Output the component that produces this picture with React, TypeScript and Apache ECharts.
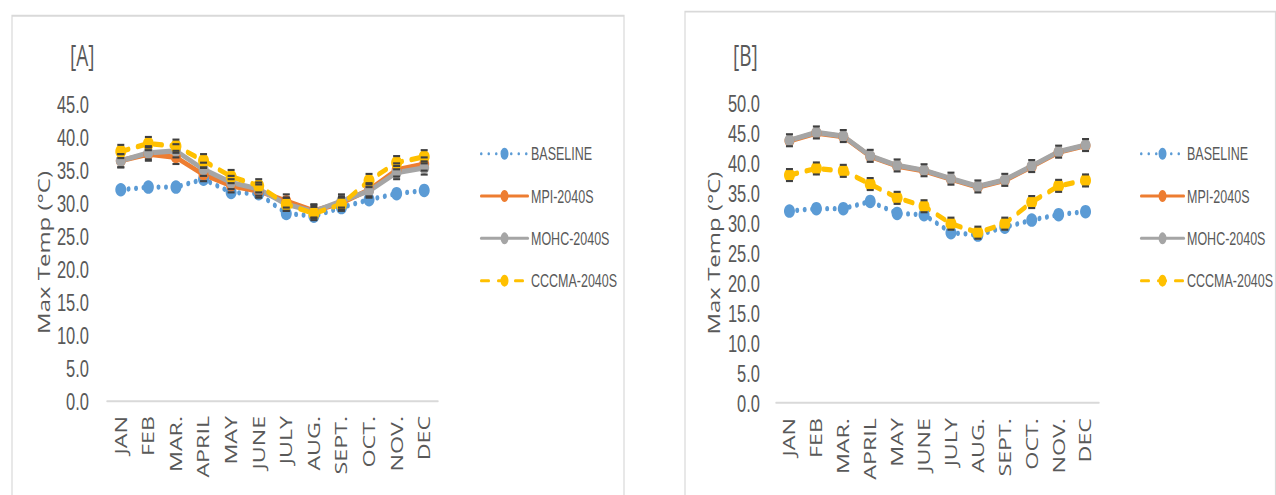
import React, { useEffect, useRef } from "react";
import * as echarts from "echarts";

const months = ["JAN", "FEB", "MAR.", "APRIL", "MAY", "JUNE", "JULY", "AUG.", "SEPT.", "OCT.", "NOV.", "DEC"];
const seriesNames = ["BASELINE", "MPI-2040S", "MOHC-2040S", "CCCMA-2040S"];

// Panel [A]
const baselineA = [32.0, 32.4, 32.4, 33.6, 31.6, 31.4, 28.4, 28.0, 29.3, 30.5, 31.4, 31.9];
const mpiA = [36.4, 37.4, 36.9, 34.3, 32.6, 31.8, 30.3, 28.8, 30.0, 32.0, 35.0, 35.9];
const mohcA = [36.4, 37.6, 37.9, 35.1, 33.1, 32.1, 29.8, 28.7, 30.3, 31.8, 34.6, 35.3];
const cccmaA = [37.8, 39.0, 38.6, 36.4, 34.0, 32.6, 29.8, 28.4, 29.8, 33.4, 36.1, 37.0];

// Panel [B]
const baselineB = [32.0, 32.4, 32.4, 33.6, 31.6, 31.4, 28.4, 28.0, 29.3, 30.5, 31.4, 31.9];
const mpiB = [43.7, 45.0, 44.4, 41.1, 39.5, 38.7, 37.3, 36.0, 37.1, 39.4, 41.8, 42.9];
const mohcB = [43.8, 45.1, 44.5, 41.2, 39.6, 38.8, 37.4, 36.1, 37.2, 39.5, 41.9, 43.0];
const cccmaB = [38.0, 39.1, 38.7, 36.5, 34.2, 32.8, 29.9, 28.4, 29.9, 33.5, 36.2, 37.1];

const yTicksA = { min: 0, max: 45, interval: 5 };
const yTicksB = { min: 0, max: 50, interval: 5 };
const ERROR_MARGIN = 1.0;

const COLORS = {
  baseline: "#5B9BD5",
  mpi: "#ED7D31",
  mohc: "#A5A5A5",
  cccma: "#FFC000",
  text: "#595959",
  axis: "#D9D9D9",
  err: "#404040",
};

function lineSeries(name: string, data: number[], idx: number, color: string, type: any, size: any) {
  return {
    name,
    type: "line",
    xAxisIndex: idx,
    yAxisIndex: idx,
    data,
    symbol: "circle",
    symbolSize: size,
    itemStyle: { color },
    lineStyle: { color, width: 3.5, type, cap: "round" },
    emphasis: { disabled: true },
  };
}

function errorSeries(data: number[], idx: number) {
  return {
    type: "custom",
    xAxisIndex: idx,
    yAxisIndex: idx,
    z: 5,
    silent: true,
    data: data.map((v, i) => [i, v]),
    encode: { x: 0, y: 1 },
    renderItem: (params: any, api: any) => {
      const i = api.value(0);
      const v = api.value(1);
      const top = api.coord([i, v + ERROR_MARGIN]);
      const bot = api.coord([i, v - ERROR_MARGIN]);
      const hw = 3.5;
      return {
        type: "group",
        children: [
          { type: "line", shape: { x1: top[0] - hw, y1: top[1], x2: top[0] + hw, y2: top[1] }, style: { stroke: COLORS.err, lineWidth: 1.4 } },
          { type: "line", shape: { x1: bot[0] - hw, y1: bot[1], x2: bot[0] + hw, y2: bot[1] }, style: { stroke: COLORS.err, lineWidth: 1.4 } },
        ],
      };
    },
  };
}

function xAxis(gridIndex: number) {
  return {
    type: "category",
    gridIndex,
    data: months,
    boundaryGap: true,
    axisLine: { show: true, lineStyle: { color: COLORS.axis, width: 1.4 } },
    axisTick: { show: false },
    axisLabel: { rotate: 90, margin: 10, color: COLORS.text, fontFamily: "Open Sans", fontSize: 15.5, interval: 0 },
    splitLine: { show: false },
  };
}

function yAxis(gridIndex: number, ticks: any, margin: number, nameGap: number) {
  return {
    type: "value",
    gridIndex,
    min: ticks.min,
    max: ticks.max,
    interval: ticks.interval,
    name: "Max Temp (°C)",
    nameLocation: "middle",
    nameGap,
    nameTextStyle: { color: COLORS.text, fontFamily: "Open Sans", fontSize: 16 },
    axisLine: { show: false },
    axisTick: { show: false },
    splitLine: { show: false },
    axisLabel: {
      margin,
      color: COLORS.text,
      fontFamily: "Liberation Sans",
      fontSize: 16.5,
      formatter: (v: number) => v.toFixed(1),
    },
  };
}

function legend(left: number, itemWidth: number) {
  return {
    orient: "vertical",
    left,
    top: 91,
    itemWidth,
    itemHeight: 10,
    itemGap: 15.2,
    data: seriesNames,
    textStyle: { color: COLORS.text, fontFamily: "Liberation Sans", fontSize: 12.5, padding: [0, 0, 0, -2] },
    selectedMode: false,
  };
}

export default function App() {
  const ref = useRef<HTMLDivElement>(null);
  useEffect(() => {
    if (!ref.current) return;
    const chart = echarts.init(ref.current, undefined, { renderer: "svg" });
    const option: any = {
      animation: false,
      backgroundColor: "#ffffff",
      grid: [
        { left: 107, top: 69.3, width: 331, height: 198, containLabel: false },
        { left: 776, top: 68.7, width: 323, height: 200, containLabel: false },
      ],
      xAxis: [xAxis(0), xAxis(1)],
      yAxis: [yAxis(0, yTicksA, 18, 55), yAxis(1, yTicksB, 16, 54)],
      legend: [legend(475, 47), legend(1135, 43)],
      graphic: [
        { type: "rect", left: 9.5, top: 8, shape: { width: 612, height: 340 }, style: { fill: "none", stroke: COLORS.axis, lineWidth: 1.2 }, silent: true, z: -1 },
        { type: "rect", left: 682.5, top: 5.3, shape: { width: 590.5, height: 340 }, style: { fill: "none", stroke: COLORS.axis, lineWidth: 1.2 }, silent: true, z: -1 },
        { type: "text", left: 70, top: 27, style: { text: "[A]", fill: COLORS.text, font: "19px 'Open Sans'" } },
        { type: "text", left: 733, top: 27, style: { text: "[B]", fill: COLORS.text, font: "19px 'Open Sans'" } },
      ],
      series: [
        lineSeries(seriesNames[0], baselineA, 0, COLORS.baseline, [0.5, 7], [11, 9]),
        lineSeries(seriesNames[1], mpiA, 0, COLORS.mpi, "solid", [10, 8]),
        lineSeries(seriesNames[2], mohcA, 0, COLORS.mohc, "solid", [10, 8]),
        lineSeries(seriesNames[3], cccmaA, 0, COLORS.cccma, [8, 9], [11, 9]),
        errorSeries(mpiA, 0),
        errorSeries(mohcA, 0),
        errorSeries(cccmaA, 0),
        lineSeries(seriesNames[0], baselineB, 1, COLORS.baseline, [0.5, 7], [11, 9]),
        lineSeries(seriesNames[1], mpiB, 1, COLORS.mpi, "solid", [10, 8]),
        lineSeries(seriesNames[2], mohcB, 1, COLORS.mohc, "solid", [10, 8]),
        lineSeries(seriesNames[3], cccmaB, 1, COLORS.cccma, [8, 9], [11, 9]),
        errorSeries(mohcB, 1),
        errorSeries(cccmaB, 1),
      ],
    };
    chart.setOption(option);
    return () => chart.dispose();
  }, []);
  return (
    <div
      ref={ref}
      style={{
        position: "fixed",
        left: 0,
        top: 0,
        width: 1276,
        height: 330,
        transform: "scaleY(1.5)",
        transformOrigin: "0 0",
        background: "#ffffff",
      }}
    />
  );
}
